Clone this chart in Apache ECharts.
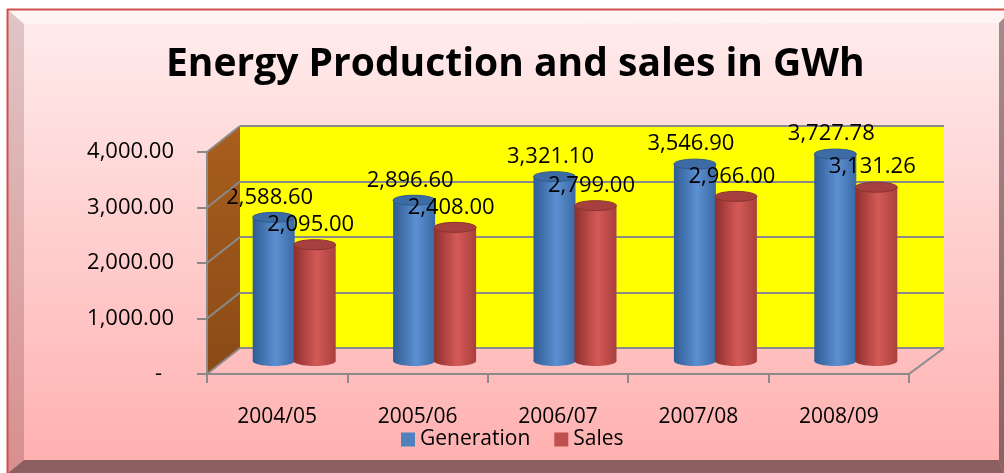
<!DOCTYPE html>
<html><head><meta charset="utf-8">
<script src="https://cdn.jsdelivr.net/npm/echarts@6/dist/echarts.min.js"></script>
<style>html,body{margin:0;padding:0;background:#fff}#c{width:1004px;height:473px}</style>
</head><body><div id="c"></div>
<script>
// ---- data ----
const categories = ['2004/05', '2005/06', '2006/07', '2007/08', '2008/09'];
const generation = [2588.60, 2896.60, 3321.10, 3546.90, 3727.78];
const sales = [2095.00, 2408.00, 2799.00, 2966.00, 3131.26];
const yTicks = [0, 1000, 2000, 3000, 4000];
const seriesNames = ['Generation', 'Sales'];
const titleText = 'Energy Production and sales in GWh';

// ---- layout (3D-look: front axis plane, back wall, bar mid plane) ----
const FRONT = {left: 207, top: 152, width: 702, height: 222};
const BACK = {left: 240, top: 126, width: 704, height: 222};
const MID = {left: 224, top: 139, width: 702, height: 222};
const FONT = '"Open Sans", "Noto Sans", sans-serif';
const GRAY = '#8a8a8a';

function fmt(v) {
  return v.toLocaleString('en-US', {minimumFractionDigits: 2, maximumFractionDigits: 2});
}

function makeRender(offset, c) {
  return function (params, api) {
    const cat = api.value(0), val = api.value(1);
    const top = api.coord([cat, val]);
    const base = api.coord([cat, 0]);
    const w = 42, ry = 5;
    const cx = top[0] + offset;
    const x = cx - w / 2;
    const body = new echarts.graphic.LinearGradient(0, 0, 1, 0, [
      {offset: 0, color: c[0]}, {offset: 0.55, color: c[1]}, {offset: 1, color: c[2]}
    ]);
    return {
      type: 'group',
      children: [
        {type: 'ellipse', shape: {cx: cx, cy: base[1], rx: w / 2, ry: ry}, style: {fill: body}},
        {type: 'rect', shape: {x: x, y: top[1], width: w, height: base[1] - top[1]}, style: {fill: body}},
        {type: 'ellipse', shape: {cx: cx, cy: top[1], rx: w / 2, ry: ry}, style: {fill: c[3], stroke: c[4], lineWidth: 1}},
        {type: 'text', x: cx - 4, y: top[1] - 20, z2: 100,
         style: {text: fmt(val), fill: '#000', font: '22px ' + FONT, align: 'center', verticalAlign: 'middle'}}
      ]
    };
  };
}

const chart = echarts.init(document.getElementById('c'), null, {renderer: 'canvas'});

const yAxisBase = {type: 'value', min: yTicks[0], max: yTicks[yTicks.length - 1], interval: yTicks[1] - yTicks[0]};

const option = {
  animation: false,
  title: {
    text: titleText, left: 161, top: 40,
    textStyle: {fontFamily: FONT, fontWeight: 'bold', fontSize: 39, color: '#000'}
  },
  legend: {
    data: seriesNames, left: 396, top: 424, icon: 'rect', itemWidth: 14, itemHeight: 14, itemGap: 24,
    textStyle: {fontFamily: FONT, fontSize: 21, color: '#000'}
  },
  grid: [
    Object.assign({containLabel: false}, FRONT),
    Object.assign({show: true, backgroundColor: '#ffff00', borderWidth: 0}, BACK),
    Object.assign({}, MID)
  ],
  xAxis: [
    {type: 'category', gridIndex: 0, data: categories,
     axisLine: {lineStyle: {color: GRAY, width: 2}},
     axisTick: {show: true, length: 9, lineStyle: {color: GRAY, width: 2}},
     axisLabel: {margin: 33, fontFamily: FONT, fontSize: 21, color: '#000'}},
    {type: 'category', gridIndex: 1, data: categories, show: false},
    {type: 'category', gridIndex: 2, data: categories, show: false}
  ],
  yAxis: [
    Object.assign({gridIndex: 0,
      axisLine: {show: true, lineStyle: {color: GRAY, width: 2}},
      axisTick: {show: true, length: 10, lineStyle: {color: GRAY, width: 2}},
      splitLine: {show: false},
      axisLabel: {margin: 33, fontFamily: FONT, fontSize: 22, color: '#000',
        formatter: function (v) { return v === 0 ? '{d|-}' : fmt(v); },
        rich: {d: {fontFamily: FONT, fontSize: 22, color: '#000', padding: [0, 12, 0, 0]}}}
    }, yAxisBase),
    Object.assign({gridIndex: 1, axisLine: {show: false}, axisTick: {show: false}, axisLabel: {show: false},
      splitLine: {show: true, lineStyle: {color: GRAY, width: 2}}}, yAxisBase),
    Object.assign({gridIndex: 2, show: false, splitLine: {show: false}}, yAxisBase)
  ],
  series: [
    {name: seriesNames[0], type: 'custom', xAxisIndex: 2, yAxisIndex: 2,
     itemStyle: {color: '#4F81BD'},
     encode: {x: 0, y: 1},
     data: generation.map((v, i) => [i, v]),
     renderItem: makeRender(-20.5, ['#2F5C93', '#5C90D2', '#3A69A3', '#3D6BA4', '#2F5A8E'])},
    {name: seriesNames[1], type: 'custom', xAxisIndex: 2, yAxisIndex: 2,
     itemStyle: {color: '#C0504D'},
     encode: {x: 0, y: 1},
     data: sales.map((v, i) => [i, v]),
     renderItem: makeRender(20.5, ['#8E2F2D', '#D45A57', '#A8403D', '#A5403E', '#8A3230'])}
  ]
};
chart.setOption(option);

// ---- decorations: frame, side wall, floor edges (derived from the axes) ----
const yMin = yTicks[0], yMax = yTicks[yTicks.length - 1];
const fy = v => chart.convertToPixel({yAxisIndex: 0}, v);
const by = v => chart.convertToPixel({yAxisIndex: 1}, v);
const fL = FRONT.left, bL = BACK.left, fR = FRONT.left + FRONT.width, bR = BACK.left + BACK.width;

const graphics = [
  {type: 'rect', z: -20, shape: {x: 0, y: 0, width: 1004, height: 473}, style: {fill: '#ffffff'}},
  {type: 'rect', z: -19, shape: {x: 8, y: 10, width: 996, height: 463},
   style: {fill: new echarts.graphic.LinearGradient(0, 0, 0, 1, [{offset: 0, color: '#FFEDED'}, {offset: 1, color: '#FFAFAF'}])}},
  {type: 'polygon', z: -18, shape: {points: [[8, 10], [1004, 10], [1004, 18], [999, 23], [24, 24]]}, style: {fill: '#FFF4F4'}},
  {type: 'polygon', z: -18, shape: {points: [[8, 10], [24, 24], [24, 460], [8, 473]]},
   style: {fill: new echarts.graphic.LinearGradient(0, 0, 0, 1, [{offset: 0, color: '#E0C6C7'}, {offset: 1, color: '#D88E8E'}])}},
  {type: 'polygon', z: -18, shape: {points: [[999, 23], [1004, 18], [1004, 473], [999, 460]]},
   style: {fill: new echarts.graphic.LinearGradient(0, 0, 0, 1, [{offset: 0, color: '#A58B8B'}, {offset: 1, color: '#8C6060'}])}},
  {type: 'polygon', z: -18, shape: {points: [[8, 473], [24, 460], [999, 460], [1004, 473]]}, style: {fill: '#8B5F5F'}},
  {type: 'line', z: -17, shape: {x1: 7, y1: 9.5, x2: 1004, y2: 9.5}, style: {stroke: '#D0504D', lineWidth: 2}},
  {type: 'line', z: -17, shape: {x1: 7.5, y1: 9, x2: 7.5, y2: 473}, style: {stroke: '#D0504D', lineWidth: 2}},
  // side wall
  {type: 'polygon', z: -5, shape: {points: [[fL, fy(yMax)], [bL, by(yMax)], [bL, by(yMin)], [fL, fy(yMin)]]},
   style: {fill: new echarts.graphic.LinearGradient(0, 0, 0, 1, [{offset: 0, color: '#A95E1E'}, {offset: 1, color: '#8A4A16'}])}},
  // floor right edge
  {type: 'line', z: 5, shape: {x1: fR, y1: fy(yMin), x2: bR, y2: by(yMin)}, style: {stroke: GRAY, lineWidth: 2}}
];
yTicks.forEach(t => {
  graphics.push({type: 'line', z: 5, shape: {x1: fL, y1: fy(t), x2: bL, y2: by(t)}, style: {stroke: GRAY, lineWidth: 2}});
});
chart.setOption({graphic: graphics});
</script>
</body></html>
